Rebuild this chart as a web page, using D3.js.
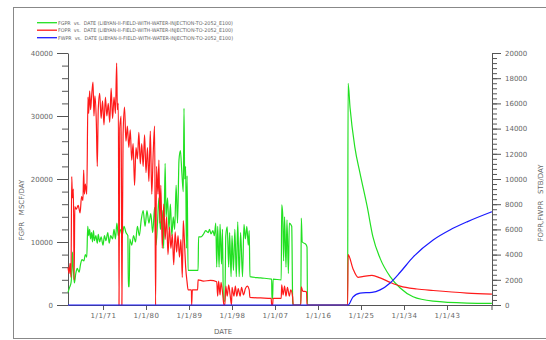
<!DOCTYPE html>
<html>
<head>
<meta charset="utf-8">
<title>FGPR FOPR FWPR vs DATE</title>
<script src="https://d3js.org/d3.v7.min.js"></script>
<style>
  body { margin: 0; background: #fff; }
  svg text { font-family: "DejaVu Sans", sans-serif; fill: #666; }
  .axis path, .axis line { stroke: #555; }
  .axis text { font-size: 7px; fill: #666; }
</style>
</head>
<body>
<svg id="chart" width="546" height="340"></svg>
<script>
// FGPR (MSCF/DAY, left axis) as [decimal year, value]
var fgpr = [
  [1963.67, 2000], [1964.0, 2800], [1964.3, 3500], [1964.5, 6000], [1964.6, 8400], [1964.8, 5500],
  [1965.0, 3500], [1965.3, 5000], [1965.6, 5800], [1966.0, 5200], [1966.3, 6500], [1966.6, 7200],
  [1967.0, 7000], [1967.3, 8000], [1967.6, 7600], [1967.8, 12500], [1968.0, 11000], [1968.2, 12000],
  [1968.4, 10500], [1968.6, 11500], [1968.8, 10000], [1969.0, 11800], [1969.2, 10200], [1969.5, 11000],
  [1969.8, 9800], [1970.0, 11200], [1970.3, 10000], [1970.6, 10800], [1971.0, 9500], [1971.3, 11000],
  [1971.6, 10200], [1972.0, 11500], [1972.3, 9800], [1972.6, 11000], [1973.0, 10500], [1973.3, 12000],
  [1973.6, 10500], [1973.9, 13000], [1974.2, 11000], [1974.6, 12000], [1975.0, 11000], [1975.4, 12500],
  [1975.8, 11500], [1976.2, 11000], [1976.3, 2900], [1976.5, 2900], [1976.6, 10500], [1977.0, 9500],
  [1977.4, 11000], [1977.8, 10000], [1978.2, 12500], [1978.6, 11000], [1979.0, 13500], [1979.4, 15000],
  [1979.8, 12500], [1980.2, 15000], [1980.6, 13000], [1981.0, 14500], [1981.4, 11500], [1981.8, 15500],
  [1982.1, 9500], [1982.4, 13000], [1982.7, 17000], [1983.0, 12000], [1983.4, 15000], [1983.7, 9000],
  [1984.0, 22500], [1984.2, 14000], [1984.5, 17000], [1984.8, 12000], [1985.1, 16000], [1985.4, 11000],
  [1985.7, 14000], [1986.0, 12000], [1986.3, 19000], [1986.6, 13000], [1986.9, 23000], [1987.2, 24500],
  [1987.5, 21000], [1987.8, 18000], [1987.95, 31200], [1988.1, 20000], [1988.3, 22000], [1988.45, 9000],
  [1988.6, 20500], [1988.8, 5500], [1990.9, 5500], [1991.0, 10800], [1991.5, 10800], [1992.0, 11200],
  [1992.5, 11800], [1993.0, 11500], [1993.3, 12000], [1993.6, 11300], [1994.0, 11800], [1994.3, 11000],
  [1994.6, 13000], [1994.8, 6000], [1995.0, 12500], [1995.3, 6000], [1995.5, 12800], [1995.8, 6500],
  [1996.0, 12000], [1996.2, 600], [1996.5, 600], [1996.7, 11000], [1997.0, 12400], [1997.3, 6000],
  [1997.5, 11500], [1997.8, 4500], [1998.0, 11000], [1998.3, 5500], [1998.6, 12000], [1998.9, 4500],
  [1999.2, 13200], [1999.5, 4500], [1999.8, 11500], [2000.2, 4500], [2000.5, 12800], [2000.8, 10500],
  [2001.1, 12500], [2001.4, 9500], [2001.6, 11800], [2001.75, 4500], [2004.0, 4300], [2006.3, 4100],
  [2006.35, 1000], [2006.5, 1000], [2006.6, 4100], [2008.3, 4000], [2008.4, 15900], [2008.6, 14500],
  [2008.8, 7000], [2009.0, 14000], [2009.3, 6000], [2009.5, 13500], [2009.8, 5000], [2010.0, 13000],
  [2010.5, 12500], [2010.7, 500], [2010.8, 0], [2012.4, 0], [2012.5, 13800], [2012.7, 10000],
  [2013.5, 9600], [2013.7, 9200], [2013.8, 0], [2022.2, 0], [2022.3, 35200], [2022.7, 31400],
  [2023.7, 25100], [2024.8, 20900], [2026.3, 15600], [2027.5, 10800], [2029.0, 7400], [2031.1, 4500],
  [2033.2, 2700], [2035.9, 1300], [2040.1, 600], [2047.2, 300], [2052.4, 250]
];

// FOPR (STB/DAY, right axis)
var fopr = [
  [1963.67, 3000], [1963.9, 2500], [1964.1, 3300], [1964.3, 2200], [1964.45, 10200], [1964.6, 8500],
  [1964.8, 9200], [1964.95, 2000], [1965.1, 7800], [1965.4, 7600], [1965.8, 7900], [1966.2, 7300],
  [1966.5, 8600], [1966.8, 8300], [1966.95, 10700], [1967.1, 8800], [1967.3, 9600], [1967.6, 8800],
  [1967.85, 16500], [1968.0, 15200], [1968.2, 17000], [1968.4, 15500], [1968.6, 16500], [1968.9, 17700],
  [1969.1, 15000], [1969.3, 16600], [1969.6, 14500], [1969.8, 11000], [1970.0, 15500], [1970.3, 16800],
  [1970.6, 14800], [1970.9, 16200], [1971.2, 14300], [1971.5, 16500], [1971.8, 15000], [1972.1, 16000],
  [1972.4, 14500], [1972.7, 17200], [1973.0, 14800], [1973.3, 16500], [1973.6, 15200], [1973.85, 19200],
  [1974.0, 15500], [1974.2, 16000], [1974.35, 0], [1974.5, 14000], [1974.8, 15000], [1974.95, 0],
  [1975.2, 13500], [1975.5, 15700], [1975.8, 13000], [1976.1, 14200], [1976.4, 12500], [1976.7, 13900],
  [1977.0, 11500], [1977.3, 12800], [1977.6, 9500], [1977.9, 12500], [1978.2, 11600], [1978.5, 13700],
  [1978.8, 11200], [1979.1, 12800], [1979.4, 11000], [1979.7, 13500], [1980.0, 10500], [1980.3, 12500],
  [1980.6, 9800], [1980.9, 13800], [1981.2, 8800], [1981.5, 12000], [1981.8, 14200], [1982.0, 0],
  [1982.2, 11000], [1982.5, 8800], [1982.7, 11500], [1982.9, 6500], [1983.1, 9500], [1983.4, 4500],
  [1983.7, 8000], [1984.0, 5200], [1984.3, 7000], [1984.6, 4000], [1984.9, 6200], [1985.2, 4500],
  [1985.5, 5600], [1985.8, 3200], [1986.1, 5800], [1986.4, 4200], [1986.7, 5500], [1987.0, 3800],
  [1987.3, 5200], [1987.6, 2200], [1987.8, 6700], [1988.0, 5400], [1988.3, 3000], [1988.6, 1800],
  [1988.8, 1200], [1989.5, 1200], [1989.55, 0], [1989.7, 1200], [1990.8, 1200], [1990.9, 2000],
  [1992.0, 1900], [1993.5, 1950], [1994.8, 1850], [1995.0, 700], [1995.2, 1900], [1995.5, 800],
  [1995.7, 1800], [1996.1, 700], [1996.3, 0], [1996.5, 0], [1996.7, 1500], [1997.0, 700],
  [1997.3, 1600], [1997.6, 800], [1997.9, 0], [1998.0, 1400], [1998.4, 700], [1998.7, 1500],
  [1999.0, 700], [1999.3, 1300], [1999.7, 700], [2000.0, 1400], [2000.4, 800], [2000.8, 1300],
  [2001.2, 1500], [2001.6, 1200], [2001.75, 600], [2004.0, 560], [2006.2, 520], [2006.3, 0],
  [2006.5, 0], [2006.6, 530], [2008.3, 530], [2008.4, 1600], [2008.7, 800], [2009.0, 1500],
  [2009.3, 700], [2009.6, 1400], [2010.0, 700], [2010.3, 1200], [2010.7, 600], [2010.8, 0],
  [2012.4, 0], [2012.5, 1450], [2012.8, 1100], [2013.6, 1050], [2013.7, 0], [2022.2, 0],
  [2022.3, 4000], [2023.3, 2900], [2024.4, 2200], [2025.3, 2250], [2027.3, 2350], [2029.0, 2150],
  [2031.1, 1800], [2033.2, 1500], [2036.7, 1270], [2040.1, 1150], [2047.2, 950], [2052.4, 870]
];

// FWPR (STB/DAY, right axis)
var fwpr = [
  [1963.67, 0], [2022.3, 0], [2023.3, 630], [2024.8, 950], [2027.3, 1000], [2029.0, 1200],
  [2031.1, 1750], [2033.2, 2600], [2035.9, 3800], [2040.1, 5160], [2043.6, 5950], [2047.2, 6600],
  [2052.4, 7400]
];

var dateTicks = [1971, 1980, 1989, 1998, 2007, 2016, 2025, 2034, 2043];
var leftMajor = [0, 10000, 20000, 30000, 40000];
var rightMajor = d3.range(0, 20001, 2000);

var legendItems = [
  { name: "FGPR", color: "#22e022" },
  { name: "FOPR", color: "#ff1a1a" },
  { name: "FWPR", color: "#1a1aff" }
];

function yd(t) {
  var y = Math.floor(t);
  var s = new Date(y, 0, 1), e = new Date(y + 1, 0, 1);
  return new Date(+s + (t - y) * (e - s));
}

var plotLeft = 68, plotRight = 492, plotTop = 53, plotBottom = 305;

var svg = d3.select('#chart');

// frame
svg.append('rect')
   .attr('x', 13.5).attr('y', 7.5)
   .attr('width', 540).attr('height', 331)
   .attr('fill', 'none').attr('stroke', '#888');

var x = d3.scaleTime().domain([yd(1963.67), yd(2052.42)]).range([plotLeft, plotRight]);
var yL = d3.scaleLinear().domain([0, 40000]).range([plotBottom, plotTop]);
var yR = d3.scaleLinear().domain([0, 20000]).range([plotBottom, plotTop]);

// left axis: minor then major
svg.append('g').attr('class', 'axis')
   .attr('transform', `translate(${plotLeft},0)`)
   .call(d3.axisLeft(yL).tickValues(d3.range(0, 40001, 2000)).tickSize(6).tickFormat(''))
   .call(g => g.select('.domain').remove());
svg.append('g').attr('class', 'axis')
   .attr('transform', `translate(${plotLeft},0)`)
   .call(d3.axisLeft(yL).tickValues(leftMajor).tickSize(11).tickSizeOuter(0).tickPadding(4).tickFormat(d3.format('d')));

// right axis
svg.append('g').attr('class', 'axis')
   .attr('transform', `translate(${plotRight},0)`)
   .call(d3.axisRight(yR).tickValues(d3.range(0, 20001, 400)).tickSize(5).tickFormat(''))
   .call(g => g.select('.domain').remove());
svg.append('g').attr('class', 'axis')
   .attr('transform', `translate(${plotRight},0)`)
   .call(d3.axisRight(yR).tickValues(rightMajor).tickSize(9).tickSizeOuter(0).tickPadding(4).tickFormat(d3.format('d')));
svg.append('line')
   .attr('x1', plotRight).attr('x2', plotRight).attr('y1', plotBottom).attr('y2', plotBottom + 5)
   .attr('stroke', '#555');

// x axis
var xAxis = svg.append('g').attr('class', 'axis')
   .attr('transform', `translate(0,${plotBottom})`)
   .call(d3.axisBottom(x).tickValues(dateTicks.map(function(d) { return new Date(d, 0, 1); }))
        .tickSize(5).tickSizeOuter(0).tickPadding(3).tickFormat(d3.timeFormat('%-m/%-d/%y')));
xAxis.selectAll('text').attr('letter-spacing', '0.6px');

// lines
function drawLine(data, yScale, color) {
  var line = d3.line()
      .x(function(d) { return x(yd(d[0])); })
      .y(function(d) { return yScale(d[1]); })
      .curve(d3.curveMonotoneX);
  svg.append('path')
     .datum(data)
     .attr('fill', 'none')
     .attr('stroke', color)
     .attr('stroke-width', 1.2)
     .attr('stroke-linejoin', 'round')
     .attr('d', line);
}
drawLine(fgpr, yL, legendItems[0].color);
drawLine(fopr, yR, legendItems[1].color);
drawLine(fwpr, yR, legendItems[2].color);

// axis titles
svg.append('text')
   .attr('transform', 'translate(24,210) rotate(-90)')
   .attr('text-anchor', 'middle')
   .attr('font-size', 7)
   .style('white-space', 'pre')
   .text('FGPR   MSCF/DAY');
svg.append('text')
   .attr('transform', 'translate(543,203) rotate(-90)')
   .attr('text-anchor', 'middle')
   .attr('font-size', 7)
   .style('white-space', 'pre')
   .text('FOPR,FWPR   STB/DAY');
svg.append('text')
   .attr('x', 223).attr('y', 334)
   .attr('text-anchor', 'middle')
   .attr('font-size', 7)
   .text('DATE');

// legend
var leg = svg.append('g');
legendItems.forEach(function(d, i) {
  var yy = 22.7 + i * 7.5;
  leg.append('line')
     .attr('x1', 37).attr('x2', 57).attr('y1', yy).attr('y2', yy)
     .attr('stroke', d.color).attr('stroke-width', 1.3);
  leg.append('text')
     .attr('x', 58).attr('y', yy + 2)
     .attr('font-size', 5.2)
     .attr('textLength', 175)
     .attr('lengthAdjust', 'spacingAndGlyphs')
     .style('white-space', 'pre')
     .text(d.name + '  vs.  DATE (LIBYAN-II-FIELD-WITH-WATER-INJECTION-TO-2052_E100)');
});
</script>
</body>
</html>
